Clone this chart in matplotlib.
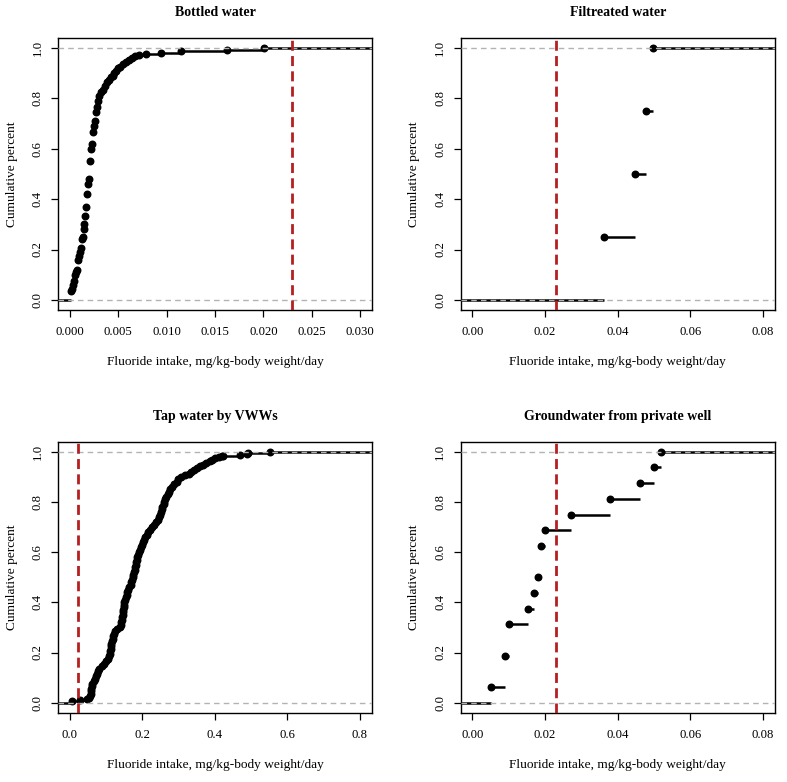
import matplotlib
matplotlib.use("Agg")
import matplotlib.pyplot as plt
import numpy as np

plt.rcParams['font.family'] = ['Liberation Serif', 'DejaVu Serif']

# Bottled water: ECDF knots and levels
bottled_x = [0.0001, 0.0002, 0.0003, 0.0004, 0.0005, 0.0006, 0.0007, 0.0008,
             0.0009, 0.0010, 0.0011, 0.0012, 0.0013, 0.0014, 0.0015, 0.0016,
             0.0017, 0.0018, 0.0019, 0.0020, 0.0021, 0.0022, 0.0023, 0.0024,
             0.0025, 0.0026, 0.0027, 0.0028, 0.0029, 0.0030, 0.0032, 0.0034,
             0.0036, 0.0038, 0.0040, 0.0042, 0.0044, 0.0046, 0.0048, 0.0050,
             0.0052, 0.0055, 0.0058, 0.0061, 0.0064, 0.0067, 0.0071, 0.0079,
             0.0094, 0.0115, 0.0162, 0.0201]
bottled_F = [0.035, 0.045, 0.06, 0.075, 0.10, 0.11, 0.12, 0.16,
             0.175, 0.19, 0.205, 0.24, 0.25, 0.28, 0.30, 0.335,
             0.37, 0.42, 0.46, 0.48, 0.55, 0.60, 0.62, 0.665,
             0.69, 0.71, 0.745, 0.765, 0.79, 0.81, 0.825, 0.835,
             0.85, 0.865, 0.875, 0.885, 0.89, 0.90, 0.91, 0.92,
             0.925, 0.935, 0.945, 0.953, 0.96, 0.967, 0.973, 0.977,
             0.98, 0.987, 0.993, 1.0]

# Filtreated water: individual intakes (n = 4)
filtered_vals = [0.0363, 0.0448, 0.0477, 0.0498]

# Tap water by VWWs: ECDF knots and levels
tap_x = [0.007, 0.030, 0.048, 0.053, 0.056, 0.058, 0.059, 0.060, 0.061, 0.063,
         0.066, 0.069, 0.072, 0.075, 0.078, 0.082, 0.088, 0.094, 0.100, 0.105,
         0.109, 0.111, 0.112, 0.113, 0.114, 0.115, 0.117, 0.119, 0.121, 0.123,
         0.126, 0.132, 0.138, 0.141, 0.143, 0.144, 0.145, 0.146, 0.147, 0.148,
         0.149, 0.150, 0.151, 0.153, 0.155, 0.157, 0.159, 0.162, 0.165, 0.168,
         0.170, 0.172, 0.174, 0.176, 0.178, 0.180, 0.181, 0.182, 0.183, 0.185,
         0.187, 0.189, 0.192, 0.195, 0.197, 0.199, 0.202, 0.205, 0.209, 0.213,
         0.217, 0.222, 0.228, 0.234, 0.238, 0.243, 0.247, 0.250, 0.252, 0.254,
         0.256, 0.259, 0.261, 0.264, 0.267, 0.270, 0.273, 0.277, 0.283, 0.289,
         0.295, 0.300, 0.308, 0.318, 0.328, 0.336, 0.343, 0.352, 0.360, 0.368,
         0.377, 0.386, 0.393, 0.400, 0.412, 0.420, 0.423, 0.470, 0.490, 0.493,
         0.552]
tap_F = [0.005, 0.010, 0.015, 0.020, 0.025, 0.035, 0.045, 0.055, 0.065, 0.075,
         0.085, 0.095, 0.105, 0.115, 0.125, 0.135, 0.145, 0.155, 0.165, 0.175,
         0.185, 0.195, 0.205, 0.215, 0.225, 0.235, 0.245, 0.255, 0.265, 0.275,
         0.285, 0.292, 0.300, 0.310, 0.320, 0.330, 0.340, 0.350, 0.360, 0.370,
         0.380, 0.390, 0.400, 0.410, 0.420, 0.430, 0.440, 0.450, 0.460, 0.470,
         0.480, 0.490, 0.500, 0.510, 0.520, 0.530, 0.540, 0.550, 0.560, 0.570,
         0.580, 0.590, 0.600, 0.610, 0.620, 0.630, 0.640, 0.650, 0.660, 0.670,
         0.680, 0.690, 0.700, 0.710, 0.720, 0.730, 0.740, 0.750, 0.760, 0.770,
         0.780, 0.790, 0.800, 0.810, 0.820, 0.830, 0.840, 0.850, 0.860, 0.870,
         0.880, 0.890, 0.898, 0.906, 0.913, 0.920, 0.928, 0.935, 0.942, 0.948,
         0.955, 0.962, 0.968, 0.974, 0.978, 0.982, 0.985, 0.988, 0.992, 0.995,
         1.000]

# Groundwater from private well: individual intakes (n = 16)
ground_vals = [0.005, 0.009, 0.009, 0.010, 0.010, 0.0152, 0.0171, 0.0181,
               0.019, 0.019, 0.020, 0.0272, 0.038, 0.0461, 0.050, 0.052]

limit = 0.023   # reference line
titles = ["Bottled water", "Filtreated water", "Tap water by VWWs",
          "Groundwater from private well"]


def ecdf(vals):
    u, c = np.unique(vals, return_counts=True)
    return u, np.cumsum(c) / len(vals)


def draw_ecdf(ax, xs, Fs, xlim, xticks, fmt, title):
    xs = np.asarray(xs)
    Fs = np.asarray(Fs)
    ax.set_xlim(xlim)
    ax.set_ylim(-0.04, 1.04)
    # horizontal steps (no verticals), like R plot.ecdf
    ax.hlines(Fs[:-1], xs[:-1], xs[1:], color='black', lw=1.8, zorder=2)
    ax.hlines(0, xlim[0], xs[0], color='black', lw=1.8, zorder=2)
    ax.hlines(1, xs[-1], xlim[1], color='black', lw=1.8, zorder=2)
    ax.plot(xs, Fs, 'o', color='black', ms=4.7, zorder=3)
    ax.axhline(0, color='#b3b3b3', lw=1, ls=(0, (4, 3)), zorder=4)
    ax.axhline(1, color='#b3b3b3', lw=1, ls=(0, (4, 3)), zorder=4)
    ax.axvline(limit, color='#b51f1f', lw=2, ls=(0, (3.6, 1.9)), zorder=5)

    ax.set_xticks(xticks)
    ax.set_xticklabels([fmt.format(t) for t in xticks])
    ax.set_yticks([0, 0.2, 0.4, 0.6, 0.8, 1.0])
    ax.set_yticklabels(["0.0", "0.2", "0.4", "0.6", "0.8", "1.0"],
                       rotation=90, va='center')
    ax.tick_params(axis='x', direction='out', length=5, width=0.9, labelsize=9.2, pad=6.5)
    ax.tick_params(axis='y', direction='out', length=5, width=0.9, labelsize=9.2, pad=5.5)
    for s in ax.spines.values():
        s.set_linewidth(1.0)
    ax.set_xlabel("Fluoride intake, mg/kg-body weight/day", fontsize=9.6, labelpad=13)
    ax.set_ylabel("Cumulative percent", fontsize=9.6, labelpad=10)
    ax.set_title(title, fontsize=10, fontweight='bold', pad=16)


fig = plt.figure(figsize=(7.87, 7.82), dpi=100)
w, h = 0.399, 0.3478
ax1 = fig.add_axes([0.0737, 0.6036, w, h])
ax2 = fig.add_axes([0.5854, 0.6036, w, h])
ax3 = fig.add_axes([0.0737, 0.0886, w, 0.3465])
ax4 = fig.add_axes([0.5854, 0.0886, w, 0.3465])

draw_ecdf(ax1, bottled_x, bottled_F, (-0.00124, 0.03124),
          [0, 0.005, 0.01, 0.015, 0.02, 0.025, 0.03], "{:.3f}", titles[0])
fx, fF = ecdf(filtered_vals)
draw_ecdf(ax2, fx, fF, (-0.0032, 0.0832),
          [0, 0.02, 0.04, 0.06, 0.08], "{:.2f}", titles[1])
draw_ecdf(ax3, tap_x, tap_F, (-0.032, 0.834),
          [0, 0.2, 0.4, 0.6, 0.8], "{:.1f}", titles[2])
gx, gF = ecdf(ground_vals)
draw_ecdf(ax4, gx, gF, (-0.0032, 0.0832),
          [0, 0.02, 0.04, 0.06, 0.08], "{:.2f}", titles[3])

fig.savefig("out.png", dpi=100)
